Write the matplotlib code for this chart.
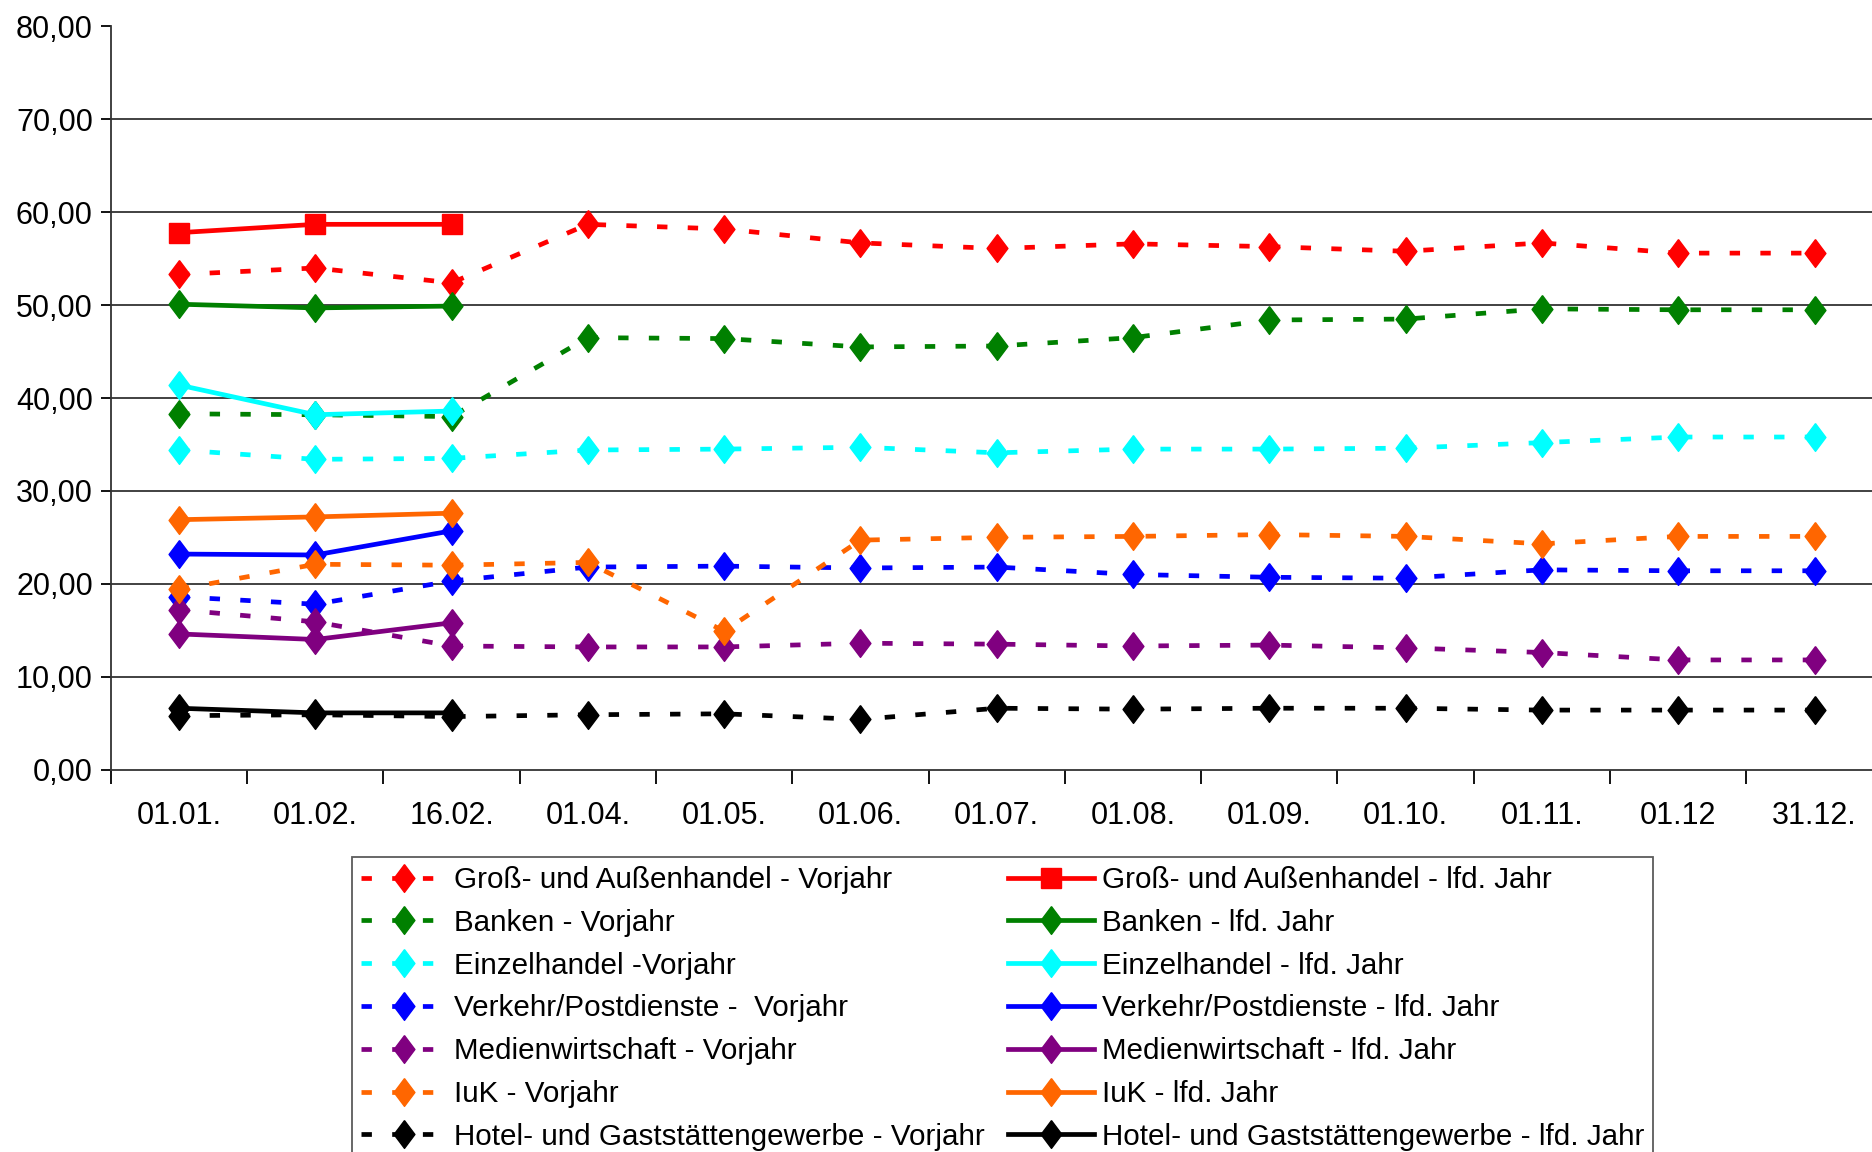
import numpy as np
import matplotlib
matplotlib.use('Agg')
import matplotlib.pyplot as plt

plt.rcParams['font.family'] = ['Liberation Sans', 'DejaVu Sans']

# Stichtage (Kategorien)
stichtage = ['01.01.', '01.02.', '16.02.', '01.04.', '01.05.', '01.06.', '01.07.',
             '01.08.', '01.09.', '01.10.', '01.11.', '01.12', '31.12.']

# Vorjahr (gestrichelt)
gross_vj = [53.3, 54.0, 52.4, 58.7, 58.2, 56.7, 56.1, 56.6, 56.3, 55.8, 56.7, 55.6, 55.6]
banken_vj = [38.3, 38.2, 38.0, 46.5, 46.4, 45.5, 45.6, 46.5, 48.4, 48.5, 49.6, 49.5, 49.5]
einzel_vj = [34.4, 33.4, 33.5, 34.4, 34.5, 34.7, 34.1, 34.5, 34.5, 34.6, 35.2, 35.8, 35.8]
verkehr_vj = [18.6, 17.8, 20.3, 21.8, 21.9, 21.7, 21.8, 21.0, 20.7, 20.6, 21.5, 21.4, 21.4]
medien_vj = [17.2, 15.9, 13.3, 13.2, 13.2, 13.6, 13.5, 13.3, 13.4, 13.1, 12.6, 11.8, 11.8]
iuk_vj = [19.4, 22.1, 22.0, 22.3, 14.9, 24.7, 25.0, 25.1, 25.3, 25.1, 24.3, 25.1, 25.1]
hotel_vj = [5.8, 5.9, 5.7, 5.9, 6.0, 5.4, 6.6, 6.5, 6.6, 6.6, 6.4, 6.4, 6.4]

# laufendes Jahr (nur erste drei Stichtage)
gross_lfd = [57.8, 58.7, 58.7]
banken_lfd = [50.1, 49.7, 49.9]
einzel_lfd = [41.4, 38.2, 38.6]
verkehr_lfd = [23.2, 23.1, 25.7]
medien_lfd = [14.6, 14.0, 15.8]
iuk_lfd = [26.9, 27.2, 27.6]
hotel_lfd = [6.6, 6.1, 6.1]

branchen = [
    ('Groß- und Außenhandel - Vorjahr', 'Groß- und Außenhandel - lfd. Jahr', gross_vj, gross_lfd, '#FF0000'),
    ('Banken - Vorjahr', 'Banken - lfd. Jahr', banken_vj, banken_lfd, '#008000'),
    ('Einzelhandel -Vorjahr', 'Einzelhandel - lfd. Jahr', einzel_vj, einzel_lfd, '#00FFFF'),
    ('Verkehr/Postdienste -  Vorjahr', 'Verkehr/Postdienste - lfd. Jahr', verkehr_vj, verkehr_lfd, '#0000FF'),
    ('Medienwirtschaft - Vorjahr', 'Medienwirtschaft - lfd. Jahr', medien_vj, medien_lfd, '#800080'),
    ('IuK - Vorjahr', 'IuK - lfd. Jahr', iuk_vj, iuk_lfd, '#FF6600'),
    ('Hotel- und Gaststättengewerbe - Vorjahr', 'Hotel- und Gaststättengewerbe - lfd. Jahr', hotel_vj, hotel_lfd, '#000000'),
]

# Excel-Raute (etwas hoeher als breit)
raute = [(0, 1), (0.75, 0), (0, -1), (-0.75, 0), (0, 1)]

fig = plt.figure(figsize=(18.72, 11.52), dpi=100)
ax = fig.add_axes([0.0592, 0.332, 0.9465, 0.645])

x = np.arange(len(stichtage))
vj_handles = []
lfd_handles = []
for lab_vj, lab_lfd, vj, lfd, col in branchen:
    h1, = ax.plot(x, vj, color=col, lw=3.4, linestyle=(0, (2.2, 4.3)),
                  dash_capstyle='butt', marker=raute, ms=20, mec=col, mfc=col,
                  label=lab_vj, clip_on=False)
    mk = 's' if col == '#FF0000' else raute
    ms = 15 if col == '#FF0000' else 20
    h2, = ax.plot(x[:len(lfd)], lfd, color=col, lw=3.4, marker=mk, ms=ms,
                  mec=col, mfc=col, label=lab_lfd, clip_on=False)
    vj_handles.append(h1)
    lfd_handles.append(h2)

ax.set_xlim(-0.5, len(stichtage) - 0.5)
ax.set_ylim(0, 80)

ax.set_yticks(np.arange(0, 81, 10))
ax.set_yticklabels(['%d,00' % v for v in range(0, 81, 10)])
ax.set_xticks(np.arange(-0.5, len(stichtage), 1.0))
ax.set_xticklabels([])
ax.set_xticks(x, minor=True)
ax.set_xticklabels(stichtage, minor=True)

ax.tick_params(axis='y', which='major', labelsize=22, length=7, width=1.3, pad=6, direction='out')
ax.tick_params(axis='x', which='major', length=10, width=1.3, direction='out')
ax.tick_params(axis='x', which='minor', labelsize=22, length=0, pad=23)

ax.yaxis.grid(True, color='#333333', lw=1.3)
ax.set_axisbelow(True)
ax.yaxis.get_gridlines()[-1].set_visible(False)
ax.yaxis.get_gridlines()[0].set_visible(False)

for s in ['top', 'right']:
    ax.spines[s].set_visible(False)
for s in ['left', 'bottom']:
    ax.spines[s].set_linewidth(1.3)
    ax.spines[s].set_color('#333333')

leg = fig.legend(vj_handles + lfd_handles,
                 [h.get_label() for h in vj_handles + lfd_handles],
                 ncol=2, loc='upper left', bbox_to_anchor=(0.188, 0.256),
                 fontsize=21.3, frameon=True, fancybox=False, edgecolor='#333333',
                 handlelength=2.9, handletextpad=0.25, columnspacing=0.8,
                 labelspacing=0.5, borderpad=0.3, borderaxespad=0)
leg.get_frame().set_linewidth(1.3)

fig.savefig('out.png', dpi=100)
